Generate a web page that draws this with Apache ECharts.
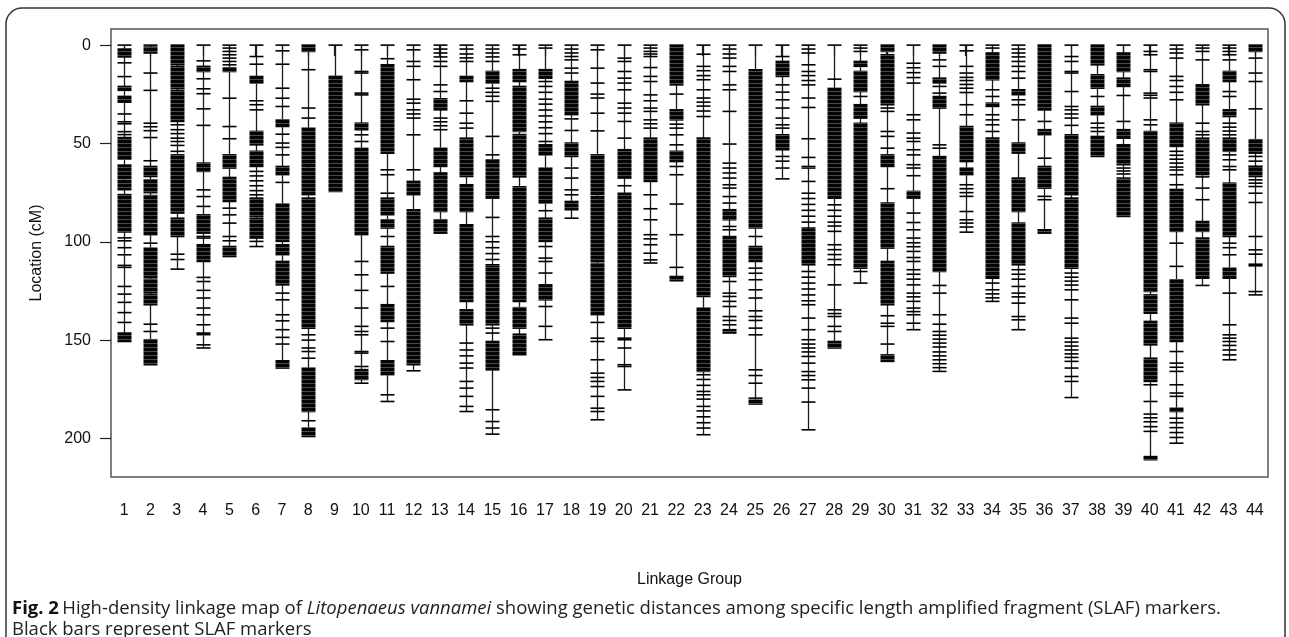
<!DOCTYPE html>
<html>
<head>
<meta charset="utf-8">
<script src="https://cdn.jsdelivr.net/npm/echarts@6/dist/echarts.min.js"></script>
<style>html,body{margin:0;padding:0;background:#fff;}#c{width:1289px;height:637px;}</style>
</head>
<body>
<div id="c"></div>
<script>
// Linkage group labels
const groupLabels = ['1','2','3','4','5','6','7','8','9','10','11','12','13','14','15','16','17','18','19','20','21','22','23','24','25','26','27','28','29','30','31','32','33','34','35','36','37','38','39','40','41','42','43','44'];
// Length of each linkage group (cM)
const groupLengths = [150.7,162.5,113.9,154,107.5,102.4,164.2,199,74.4,171.9,181.2,165.6,95.6,186.3,197.8,157.5,149.8,88,190.5,175.3,110.8,119.8,198.1,146.4,182.5,68,195.6,154,121,160.8,144.7,165.9,95.1,130.3,144.7,95.6,179.2,56.6,87.1,210.8,202.4,122.2,160,127];
// Isolated SLAF markers (cM)
const markers = [
 [0,9,16,35,39,40,44,45.5,98,99.5,103,106.6,112,113,122.7,126.6,130.8,136,141],
 [0,14.2,23,39.7,41.5,43.5,47,58.8,100.7,141.9,145.6],
 [40.5,43,45,47.3,49,51,54,106.3,109,113.9],
 [0,8,17.1,22.2,24.7,32.4,40.8,73.6,77,82,97.3,98.1,118.1,120.2,124.7,128.6,133.7,137.1,142.2,152.4,154],
 [0,1.5,3.2,4.9,6.6,8.3,10,27,41.4,47.6,82.9,86.3,90.5,97.3,99.5],
 [0,5.8,9.7,28.3,30.3,32.9,64.2,66.5,69,71.5,74,76.1,99.8,102.4],
 [0,2.9,9.7,21.9,27,31.2,45.3,49.8,52,55.8,69.8,126.1,129.5,137.1,140.2,144.7,148.6,152],
 [12.5,32,37.1,147.3,150,154,155.8,159.2,191],
 [0],
 [0,2.4,13.4,14.2,24.4,25.3,45.6,49,110,116.8,124.7,133.7,143,145.6,147.3,155.8,156.6,163.4,171.9],
 [0,6.9,63.4,65.9,75.3,97.3,122.7,143.9,150.7,177.8,181.2],
 [0,2.4,8.3,10.8,17.6,27.5,29.5,32.9,35,37.1,45.6,63.4,165.6],
 [0,2,4,6,8.3,10.8,20.2,23.6,37.1,39,41,43],
 [0,2,4.5,6.5,8.3,28.3,34.6,39.7,42.2,151.5,155,158,161.7,164.2,171,174.4,178.6,183.7,186.3],
 [0,2,4,6,8.3,21.9,24,26,28.6,46.4,55.8,87.6,97.3,100,103,106,109,111.7,143.9,146.4,185.4,191.4,194.7,197.8],
 [0,2,4.9],
 [0,1.5,18.5,21,24,27.5,30,33,36,39,42,45,49,84.2,102.4,108.3,110,115.9,132.9,143,149.8],
 [0,2,4,5.8,7.5,11.7,14.2,37.5,43.4,62.5,67.6,73.6,76.1,88],
 [0,2.4,11.7,19.3,24.9,26.9,34.6,43.6,141,149,150.7,160,166.8,169,171,173.6,178.6,184.6,186.3,190.5],
 [0,6.6,8.3,13.4,16.8,19.3,22.7,29.5,32,34.6,38.8,47.3,71.5,149,149.8,154,162.5,163.4,175.3],
 [0,1.5,3.2,4.5,5.8,11.4,15.9,18.5,25.3,28.3,32,33.7,38,40,42.2,76.1,83.2,88.8,96.4,98.5,101.5,105.8,109.2,110.8],
 [24.9,40.2,42.2,45.6,50.7,61.7,65.9,80.8,96.4,113],
 [0,4.6,10.8,13,15.5,17.6,22.7,26.9,29,31,33.5,36.3,167.6,170,173,176.1,177.8,180,183.7,186,189,192,194.7,198.1],
 [0,2,4.5,6.6,10.8,13.4,20.2,22.7,33.7,50.3,60,62.5,65,67.6,71,72.7,77,80.3,92.2,93.9,120.2,126.1,127.8,130.3,132.9,138,140,142.2],
 [0,97.3,113.4,116,119.3,124.4,128.6,135.1,138,140,143.9,147.3,165.1,168,171.9,179.5],
 [0,5.8,20.2,23.9,27.8,32,37.1,40.5,42.2,56.6,59,62.5,68],
 [0,2,4,10,13.4,15.5,18,20.2,26.9,31.7,47.6,57.1,69.3,75.3,78,81,84,87,90,93,115.1,118,121,124,127,130,132,138.8,144.7,149.8,152,154,156,158.3,161.7,166,168,170.2,174.4,181.5,195.6],
 [0,17.3,81.2,84,87,90,92,94.7,101.5,104,106.5,109,111.7,121.9,134.6,136.5,138,143,145.6],
 [0,1.5,3.2,26.1,115.1,121],
 [32,33.7,43.9,46.4,52.4,73,137.6,141.4,143,152],
 [0,9.2,11.5,14,16.5,19.3,35.4,38,44.7,47.3,49,53.2,55.8,60.8,62.5,66.4,85.4,90.2,93.9,98.1,100.5,102.5,104.9,108,110,114.2,116.5,119,121.9,126.1,128,130.3,133.7,135.5,137.1,141.4,144.7],
 [7.5,10.8,21,24.4,50.7,52.4,122.2,126.1,137.1,141.9,145.6,147.5,149.5,151.5,153.5,156,158,160,162,164,165.9],
 [0,2.9,10.8,14.2,16.4,18,20,21.9,24.1,30.3,35.4,71,73,75,76.9,84.6,88.8,90.5,92.5,95.1],
 [0,1.5,22.7,26.1,35.4,38,40.5,43.9,121,124.4,126.5,128.5,130.3],
 [0,2,4,6,8.3,10.8,13.4,16.8,27.8,30.3,38,114.2,116.5,119,122.7,126.1,128,131.2,138,139.7,144.7],
 [38.8,57.5,76.9,78.6],
 [0,5.8,8.3,13.4,14.2,23.6,31.2,32.9,35,37.1,40.8,115.9,118,120,122,124.4,129.5,138.8,141.4,149,151,153,155,157,158.8,160.8,164.2,168.5,171,179.2],
 [26.1,39.7,42,43.9],
 [0,25.6,38.8,62.5,64,65.5,67.6],
 [0,3.2,4.9,12.5,13.4,24.4,25.5,26.9,38,40.5,172.7,181.2,187.6,189.5,191.5,194,196.4],
 [0,2,4,6.6,15.9,18,21,24,27.8,54,56,58,60,62,63.5,65.9,71,100.7,112.5,155.8,161.7,163.8,165.9,172.7,176.9,178.6,189.7,192,194.5,197,199.5,202.4],
 [0,1.5,3.2,7.5,39.7,43.9,45.6,67,72.7,78.6,122.2],
 [0,1.5,3.2,4.9,7.5,23.6,26.1,39.7,41.7,43.7,45.6,55.8,58.3,61.7,63.4,100.7,103,106.6,126.1,142.2,147.3,149,150.7,152.7,155,157.5,160],
 [6.6,14.2,18.5,32.4,56.6,59,61.7,68.5,70.2,71.9,75.3,80,97.3,104.1,106.3,111.4,112.2,125.3,127]
];
// Dense marker clusters [from, to] (cM)
const blocks = [
 [[2,6],[21,23],[26,29],[47,58],[61,68],[69,73.5],[76,95],[146.4,150.7]],
 [[1,4],[61.7,66.8],[68.5,75],[76.5,90],[91,96.4],[103.2,118],[119,126],[127,132],[149.8,162.5]],
 [[0,10],[11,22],[23,38.8],[55.8,85.4],[88,97.3]],
 [[10.8,13.4],[60,64.2],[86.3,95.6],[101.5,110],[146.4,147.3]],
 [[11.5,13.4],[55.8,62.5],[67.3,79.5],[102.4,107.5]],
 [[15.9,19.3],[43.9,50.7],[54,61.7],[77.8,87],[88,98.1]],
 [[38,41.4],[61.7,65.9],[80.8,99.8],[101.5,106.6],[110,121.9],[160.5,164.2]],
 [[0,3.2],[42.2,61.7],[62.5,76.1],[77.8,143.9],[164.2,186.3],[194.7,199]],
 [[15.9,74.4]],
 [[39.7,43],[52.4,96.4],[165,170]],
 [[10,54.9],[77.8,86.3],[88.8,93],[102.4,115.9],[132,140.5],[160.5,167.6]],
 [[69.3,76.1],[83.7,162.5]],
 [[27.3,32.9],[52.4,61.7],[65,84.6],[88.8,95.6]],
 [[15.9,18.5],[47.3,66.8],[71,84.6],[91.4,130.3],[134.6,142.2]],
 [[13.4,19.3],[58.3,62.5],[63.4,77.8],[112.5,142.2],[150.7,165.1]],
 [[12.5,18.5],[21,43.9],[45.5,67],[72,130.3],[133.5,143.9],[147,157.5]],
 [[12.5,16.8],[50.7,55.8],[62.5,80.3],[88,99.8],[121.9,129.5]],
 [[18.5,35.4],[49.8,56.6],[79.5,83.7]],
 [[55.8,76],[77,110],[111,137.1]],
 [[53.2,67.6],[75.3,143.9]],
 [[47.3,69.3]],
 [[0,20.2],[32.9,38],[54,59.2],[117.6,119.8]],
 [[47.3,127.8],[133.7,165.9]],
 [[83.7,88.8],[97.3,117.6],[144.7,146.4]],
 [[12.5,93],[102.4,110],[180.5,182.5]],
 [[8.3,15.9],[45.6,53.2]],
 [[61.7,62.5],[93.9,111.7]],
 [[21.9,77.8],[150.7,154]],
 [[8.3,10.8],[13.4,23.6],[30.3,37.1],[39.7,113.4]],
 [[0,3.2],[4.9,30.3],[55.8,61.7],[80.3,103.2],[110,132],[157.5,160.8]],
 [[74.4,77.8]],
 [[0,4],[16.8,19.3],[26.1,32],[56.6,115.1]],
 [[41.4,59.2],[62.5,65.9]],
 [[4,17.6],[29.5,31.2],[47.3,118.5]],
 [[22.7,25.3],[49.8,54.9],[67.6,84.6],[90.5,111.7]],
 [[0,32.9],[43,45.6],[61.7,72.7],[93.9,95.6]],
 [[45.6,76.1],[77.8,113.4]],
 [[0,10],[15.1,21.9],[31.2,35.4],[46.4,56.6]],
 [[4,13.4],[16.8,21],[43,47.3],[50.7,60.8],[68.5,87.1]],
 [[43.9,125.3],[127,136.3],[140.5,152.4],[159.2,171],[209.2,210.8]],
 [[39.7,51.5],[73.4,94.7],[119.3,150.7],[184.6,186.3]],
 [[20.2,30.3],[47.3,65.9],[89.7,94.7],[98.1,118.5]],
 [[13.4,18.5],[32.9,36.3],[47.3,54],[70.2,97.3],[113.4,118.5]],
 [[0,3.2],[48.1,54.9],[61.7,66.8]]
];
const yTicks = [0,50,100,150,200];

const chart = echarts.init(document.getElementById('c'), null, {renderer:'canvas'});
const FONT = '"Liberation Sans", Arial, Helvetica, sans-serif';
const CAP = '"Open Sans", sans-serif';
const HALF = 7;

// subtle horizontal stripe pattern: dense clusters look like packed marker bars
const pat = document.createElement('canvas');
pat.width = 4; pat.height = 4;
(function(){
  const g = pat.getContext('2d');
  g.fillStyle = '#050505'; g.fillRect(0,0,4,4);
  g.fillStyle = '#4a4a4a'; g.fillRect(0,3,4,1);
})();

function renderItem(params, api) {
  const i = api.value(0);
  const L = api.value(1);
  const p0 = api.coord([i, 0]);
  const p1 = api.coord([i, L]);
  const x = Math.round(p0[0]) + 0.5;
  const children = [{
    type:'line', shape:{x1:x, y1:p0[1], x2:x, y2:p1[1]},
    style:{stroke:'#1a1a1a', lineWidth:1.3}
  }];
  blocks[i].forEach(function(b){
    const a = api.coord([i, b[0]]), c = api.coord([i, b[1]]);
    const y0 = Math.min(a[1], c[1]) - 0.8, h = Math.abs(c[1]-a[1]) + 1.6;
    children.push({type:'rect', shape:{x:x-HALF, y:y0, width:HALF*2, height:h}, style:{fill:{image:pat, repeat:'repeat'}}});
  });
  markers[i].forEach(function(m){
    const p = api.coord([i, m]);
    children.push({type:'line', shape:{x1:x-HALF, y1:p[1], x2:x+HALF, y2:p[1]}, style:{stroke:'#000', lineWidth:1.6}});
  });
  return {type:'group', children:children};
}

chart.setOption({
  animation:false,
  backgroundColor:'#fff',
  grid:{left:111, right:21, top:29, bottom:160, show:true, borderColor:'#555', borderWidth:1.5, backgroundColor:'transparent'},
  xAxis:{
    type:'category', data:groupLabels, boundaryGap:true,
    axisLine:{show:false},
    axisTick:{show:true, alignWithLabel:true, length:11, lineStyle:{color:'#222', width:1.2}},
    axisLabel:{interval:0, margin:26, fontSize:16, color:'#111', fontFamily:FONT},
    splitLine:{show:false}
  },
  yAxis:{
    type:'value', inverse:true, min:-8.2, max:219.6,
    axisLine:{show:false},
    axisTick:{show:true, length:11, customValues:yTicks, lineStyle:{color:'#222', width:1.2}},
    axisLabel:{customValues:yTicks, margin:20, fontSize:16, color:'#111', fontFamily:FONT},
    splitLine:{show:false}
  },
  series:[{
    type:'custom', renderItem:renderItem, clip:false,
    data: groupLengths.map(function(L, i){ return [i, L]; })
  }],
  graphic:[
    {type:'rect', shape:{x:6, y:8, width:1279, height:720, r:16}, style:{fill:'none', stroke:'#333', lineWidth:1.5}, silent:true, z:-1},
    {type:'text', x:37, y:253, rotation:Math.PI/2, style:{text:'Location (cM)', font:'16px ' + FONT, fill:'#111', textAlign:'center', textVerticalAlign:'middle'}},
    {type:'text', x:689.5, y:580, style:{text:'Linkage Group', font:'16px ' + FONT, fill:'#111', textAlign:'center', textVerticalAlign:'middle'}},
    {type:'text', left:12, top:599, style:{
      text:'{b|Fig. 2} {n|High-density linkage map of }{i|Litopenaeus vannamei}{n| showing genetic distances among specific length amplified fragment (SLAF) markers.}\n{n|Black bars represent SLAF markers}',
      rich:{
        b:{fontWeight:'bold', fontSize:18.5, fontFamily:CAP, fill:'#111', lineHeight:21},
        n:{fontSize:18.5, fontFamily:CAP, fill:'#222', lineHeight:21},
        i:{fontStyle:'italic', fontSize:18.5, fontFamily:CAP, fill:'#222', lineHeight:21}
      }
    }}
  ]
});
</script>
</body>
</html>
